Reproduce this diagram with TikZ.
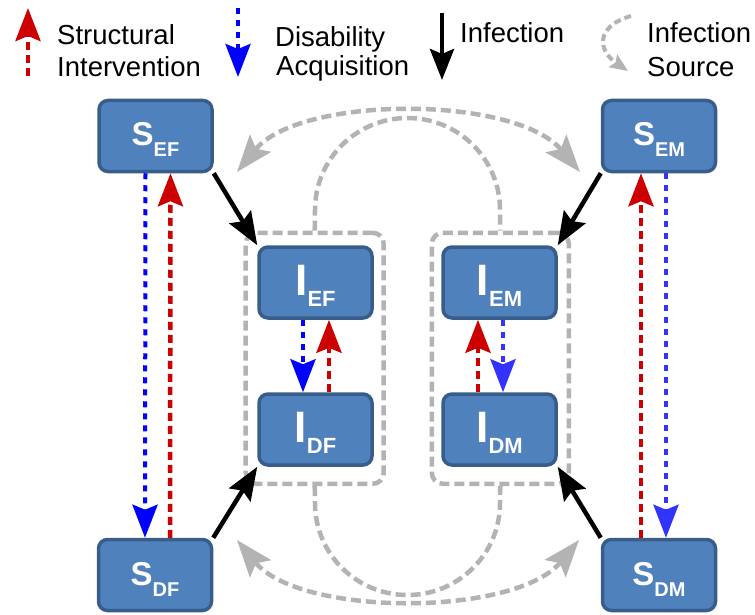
\documentclass[tikz,border=0pt]{standalone}
\usepackage{fontspec}
\setmainfont{Liberation Sans}
\usetikzlibrary{arrows.meta}
\definecolor{boxfill}{HTML}{4F81BD}
\definecolor{boxline}{HTML}{385D8A}
\definecolor{ired}{HTML}{CC0000}
\definecolor{iblue}{HTML}{0000FF}
\definecolor{iblueb}{HTML}{3333FF}
\definecolor{igrey}{HTML}{B3B3B3}
\newcommand{\boxlab}[4]{{\fontsize{#3}{#3}\selectfont\bfseries #1}\raisebox{-11pt}{\fontsize{#4}{#4}\selectfont\bfseries #2}}
\begin{document}
\begin{tikzpicture}[x=1pt,y=-1pt,
  comp/.style={draw=boxline, line width=3.5pt, fill=boxfill, rounded corners=9pt,
    minimum width=113pt, minimum height=71pt, text=white, inner sep=0pt},
  sbox/.style={comp, text height=26pt, text depth=6pt},
  ibox/.style={comp, text height=33pt, text depth=8pt},
  group/.style={draw=igrey, line width=4.5pt, dash pattern=on 10pt off 5pt, rounded corners=11pt, inner sep=0pt},
  tip/.style={-{Stealth[length=33pt,width=25pt,inset=5pt]}},
  struct/.style={tip, draw=ired, line width=4.5pt, dash pattern=on 8pt off 5pt},
  disab/.style={tip, draw=iblue, line width=4pt, dash pattern=on 6pt off 6pt},
  disabb/.style={disab, draw=iblueb},
  infect/.style={tip, draw=black, line width=4.5pt},
  source/.style={draw=igrey, line width=4.5pt, dash pattern=on 10pt off 5pt},
  gtips/.style={{Stealth[length=37pt,width=27pt,inset=7pt]}-{Stealth[length=37pt,width=27pt,inset=7pt]}},
  legtext/.style={anchor=base west, inner sep=0pt, font=\fontsize{27.5}{32}\selectfont}
]
\useasboundingbox (0,0) rectangle (755,615);

% ---- legend ----
\coordinate (lr1) at (28,76); \coordinate (lr2) at (28,8);
\draw[struct] (lr1) -- (lr2);
\node[legtext] (t1) at (57,45) {Structural};
\node[legtext] (t2) at (57,77) {Intervention};

\coordinate (lb1) at (238,8); \coordinate (lb2) at (238,77);
\draw[disab] (lb1) -- (lb2);
\node[legtext] (t3) at (275,47) {Disability};
\node[legtext] (t4) at (276,76) {Acquisition};

\coordinate (lk1) at (442,13); \coordinate (lk2) at (442,80);
\draw[infect, -{Stealth[length=31pt,width=24pt,inset=5pt]}] (lk1) -- (lk2);
\node[legtext] (t5) at (460,43) {Infection};

\coordinate (lg1) at (631,16); \coordinate (lg2) at (628,71);
\draw[source, line width=4pt, dash pattern=on 7pt off 4pt, -{Stealth[length=18pt,width=15pt,inset=3pt]}]
  (lg1) .. controls (596,26) and (597,50) .. (lg2);
\node[legtext] (t6) at (647,43) {Infection};
\node[legtext] (t7) at (647,77) {Source};

% ---- groups ----
\node[group, minimum width=138pt, minimum height=251pt] (GL) at (314.7,358.3) {};
\node[group, minimum width=137pt, minimum height=251pt] (GR) at (500.3,358.3) {};

% ---- compartments ----
\node[sbox] (SEF) at (155.5,136) {\boxlab{S}{EF}{33}{20}};
\node[sbox] (SEM) at (659,136) {\boxlab{S}{EM}{33}{20}};
\node[sbox] (SDF) at (155,575) {\boxlab{S}{DF}{33}{20}};
\node[sbox] (SDM) at (659,575) {\boxlab{S}{DM}{33}{20}};
\node[ibox] (IEF) at (315.5,282.5) {\boxlab{I}{EF}{44}{22}};
\node[ibox] (IDF) at (315.5,429.5) {\boxlab{I}{DF}{44}{22}};
\node[ibox] (IEM) at (499.5,282.5) {\boxlab{I}{EM}{44}{22}};
\node[ibox] (IDM) at (499.5,429.5) {\boxlab{I}{DM}{44}{22}};

% ---- infection source arches ----
\draw[source] (GL.north) -- (315,210) .. controls (315,159) and (356.5,118) .. (407.5,118)
  .. controls (458.5,118) and (500,159) .. (500,210) -- (GR.north);
\draw[source] (GL.south) -- (315,503) .. controls (315,554) and (356.5,595) .. (407.5,595)
  .. controls (458.5,595) and (500,554) .. (500,503) -- (GR.south);
\coordinate (oTL) at (237,172); \coordinate (oTR) at (580,172);
\coordinate (oBL) at (237,540); \coordinate (oBR) at (579,540);
\draw[source, gtips] (oTL) .. controls (300,95) and (515,95) .. (oTR);
\draw[source, gtips] (oBL) .. controls (300,617) and (515,617) .. (oBR);

% ---- infection ----
\draw[infect] (SEF.south east) -- (IEF.north west);
\draw[infect] (SEM.south west) -- (IEM.north east);
\draw[infect] (SDF.north east) -- (IDF.south west);
\draw[infect] (SDM.north west) -- (IDM.south east);

% ---- disability / structural ----
\draw[disab] ([xshift=-10pt]SEF.south) -- ([xshift=-10pt]SDF.north);
\draw[struct] ([xshift=15pt]SDF.north) -- ([xshift=15pt]SEF.south);
\draw[struct] ([xshift=-18pt]SDM.north) -- ([xshift=-18pt]SEM.south);
\draw[disabb] ([xshift=7pt]SEM.south) -- ([xshift=7pt]SDM.north);
\draw[disab] ([xshift=-12.5pt]IEF.south) -- ([xshift=-12.5pt]IDF.north);
\draw[struct] ([xshift=13.5pt]IDF.north) -- ([xshift=13.5pt]IEF.south);
\draw[struct] ([xshift=-21.5pt]IDM.north) -- ([xshift=-21.5pt]IEM.south);
\draw[disabb] ([xshift=3.5pt]IEM.south) -- ([xshift=3.5pt]IDM.north);
\end{tikzpicture}
\end{document}
